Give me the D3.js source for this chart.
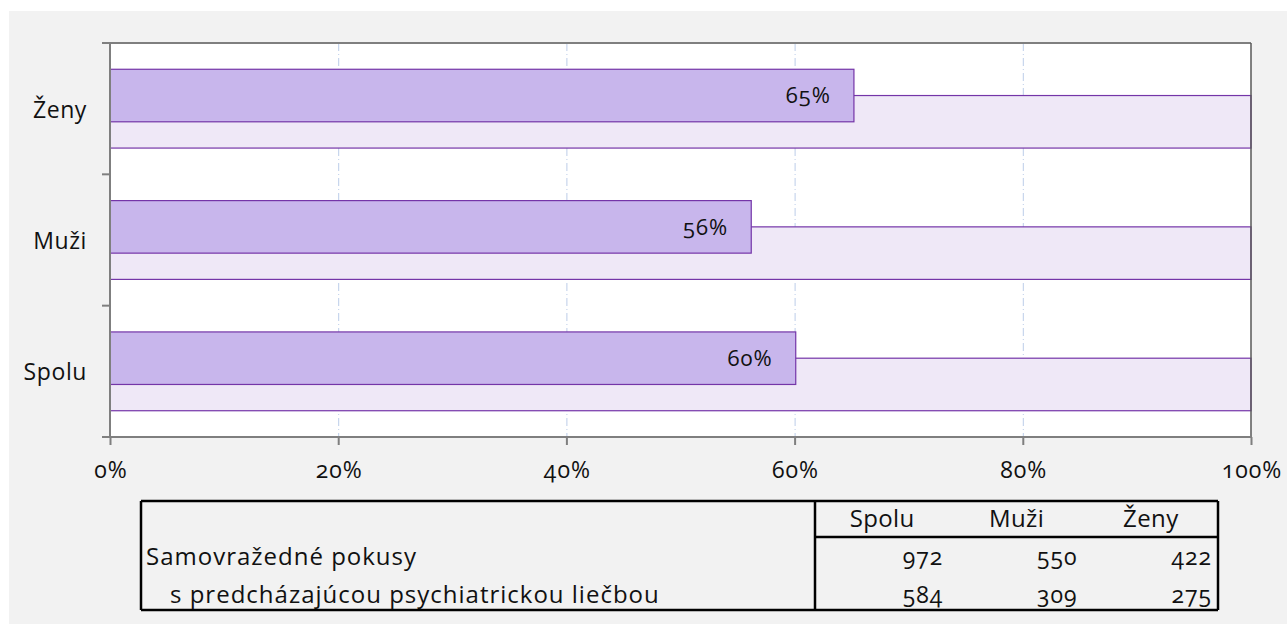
<!DOCTYPE html>
<html>
<head>
<meta charset="utf-8">
<script src="https://cdn.jsdelivr.net/npm/d3@7"></script>
<style>
  html, body { margin: 0; padding: 0; background: #ffffff; }
  svg { display: block; }
  text { font-family: "Open Sans", "Noto Sans", sans-serif; fill: #111111; font-variant-numeric: oldstyle-nums; font-feature-settings: "onum" 1; }
</style>
</head>
<body>
<svg id="chart" width="1287" height="624"></svg>
<script>
// ---- data ----
const categories = ["Ženy", "Muži", "Spolu"];
const shareValues = [65.2, 56.2, 60.1];          // % with previous psychiatric treatment
const shareLabels = ["65%", "56%", "60%"];
const totalValues = [100, 100, 100];              // background 100% bars
const xTicks = [0, 20, 40, 60, 80, 100];
const tableColumns = ["Spolu", "Muži", "Ženy"];
const tableRowLabels = ["Samovražedné pokusy", "s predcházajúcou psychiatrickou liečbou"];
const attemptsRow = [972, 550, 422];
const treatedRow = [584, 309, 275];

// ---- layout ----
const W = 1287, H = 624;
const plot = { left: 110, right: 1251, top: 43, bottom: 437 };
const svg = d3.select("#chart");

svg.append("rect").attr("x", 9).attr("y", 11).attr("width", W - 9).attr("height", H - 11).attr("fill", "#f2f2f2");
svg.append("rect").attr("x", plot.left).attr("y", plot.top)
  .attr("width", plot.right - plot.left).attr("height", plot.bottom - plot.top).attr("fill", "#ffffff");

const x = d3.scaleLinear().domain([0, 100]).range([plot.left, plot.right]);
const y = d3.scaleBand().domain(categories).range([plot.top, plot.bottom]).padding(0);
const bw = y.bandwidth();

// gridlines
svg.append("g").selectAll("line").data(xTicks.filter(t => t > 0 && t < 100)).join("line")
  .attr("x1", d => x(d) + 0.5).attr("x2", d => x(d) + 0.5)
  .attr("y1", plot.top).attr("y2", plot.bottom)
  .attr("stroke", "#bccde9").attr("stroke-width", 1).attr("stroke-dasharray", "8,3,1,3");

const rows = categories.map((c, i) => ({ c, v: shareValues[i], t: totalValues[i], lab: shareLabels[i] }));

// background (100%) bars
svg.append("g").selectAll("rect").data(rows).join("rect")
  .attr("x", x(0)).attr("y", d => y(d.c) + 0.4 * bw)
  .attr("width", d => x(d.t) - x(0)).attr("height", 0.4 * bw)
  .attr("fill", "#efe8f7").attr("stroke", "#7435a8").attr("stroke-width", 1.2);

// share bars
svg.append("g").selectAll("rect").data(rows).join("rect")
  .attr("x", x(0)).attr("y", d => y(d.c) + 0.2 * bw)
  .attr("width", d => x(d.v) - x(0)).attr("height", 0.4 * bw)
  .attr("fill", "#c8b6ec").attr("stroke", "#7435a8").attr("stroke-width", 1.2);

// bar labels
svg.append("g").selectAll("text").data(rows).join("text")
  .attr("x", d => x(d.v) - 23).attr("y", d => y(d.c) + 0.4 * bw)
  .attr("dy", "0.35em").attr("text-anchor", "end")
  .style("font-size", "22px").style("letter-spacing", "1px").text(d => d.lab);

// frame: top and right border
svg.append("line").attr("x1", plot.left - 8).attr("x2", plot.right).attr("y1", plot.top).attr("y2", plot.top)
  .attr("stroke", "#7f7f7f").attr("stroke-width", 2);
svg.append("line").attr("x1", plot.right).attr("x2", plot.right).attr("y1", plot.top).attr("y2", plot.bottom)
  .attr("stroke", "#595959").attr("stroke-width", 1.5);

// y axis
const yAxisG = svg.append("g").attr("transform", `translate(${plot.left},0)`);
yAxisG.append("line").attr("x1", 0).attr("x2", 0).attr("y1", plot.top).attr("y2", plot.bottom)
  .attr("stroke", "#7f7f7f").attr("stroke-width", 2);
yAxisG.selectAll("line.tk").data(categories.map(c => y(c)).concat([plot.bottom])).join("line")
  .attr("class", "tk").attr("x1", -8).attr("x2", 0).attr("y1", d => d).attr("y2", d => d)
  .attr("stroke", "#7f7f7f").attr("stroke-width", 2);
yAxisG.selectAll("text").data(categories).join("text")
  .attr("x", -23).attr("y", d => y(d) + bw / 2 + 1).attr("dy", "0.35em")
  .attr("text-anchor", "end").style("font-size", "23px").style("letter-spacing", "0.6px").text(d => d);

// x axis
const xAxis = d3.axisBottom(x).tickValues(xTicks).tickFormat(d => d + "%").tickSize(8).tickPadding(17);
const xAxisG = svg.append("g").attr("transform", `translate(0,${plot.bottom})`).call(xAxis);
xAxisG.select(".domain").attr("stroke", "#7f7f7f").attr("stroke-width", 2).attr("d", `M${plot.left - 8},0H${plot.right}`);
xAxisG.selectAll(".tick line").attr("stroke", "#7f7f7f").attr("stroke-width", 2);
xAxisG.selectAll(".tick text").attr("fill", "#111111").style("font-size", "23px").style("letter-spacing", "1px")
  .attr("dx", "0.5px")
  .style("font-family", '"Open Sans", "Noto Sans", sans-serif');

// ---- table ----
const tb = { left: 141, right: 1218, top: 501, headBottom: 537, bottom: 610, split: 815 };
const colX = d3.scaleBand().domain(tableColumns).range([tb.split, tb.right]);
const tg = svg.append("g");
const stroke = (x1, y1, x2, y2) => tg.append("line").attr("x1", x1).attr("y1", y1).attr("x2", x2).attr("y2", y2)
  .attr("stroke", "#000").attr("stroke-width", 2.5);
stroke(tb.left, tb.top, tb.right, tb.top);
stroke(tb.left, tb.bottom, tb.right, tb.bottom);
stroke(tb.left, tb.top, tb.left, tb.bottom);
stroke(tb.right, tb.top, tb.right, tb.bottom);
stroke(tb.split, tb.top, tb.split, tb.bottom);
stroke(tb.split, tb.headBottom, tb.right, tb.headBottom);

tg.selectAll("text.hd").data(tableColumns).join("text").attr("class", "hd")
  .attr("x", d => colX(d) + colX.bandwidth() / 2).attr("y", 519).attr("dy", "0.35em")
  .attr("text-anchor", "middle").style("font-size", "24px").style("letter-spacing", "0.4px").text(d => d);

const rowY = [557, 595];
tg.append("text").attr("x", 146).attr("y", rowY[0]).attr("dy", "0.35em")
  .style("font-size", "24px").style("letter-spacing", "1px").text(tableRowLabels[0]);
tg.append("text").attr("x", 170).attr("y", rowY[1]).attr("dy", "0.35em")
  .style("font-size", "24px").style("letter-spacing", "1px").text(tableRowLabels[1]);
[attemptsRow, treatedRow].forEach((row, ri) => {
  tg.selectAll(`text.v${ri}`).data(row).join("text").attr("class", `v${ri}`)
    .attr("x", (d, i) => colX(tableColumns[i]) + colX.bandwidth() - 6).attr("y", rowY[ri]).attr("dy", "0.35em")
    .attr("text-anchor", "end").style("font-size", "23px").style("letter-spacing", "1px").text(d => d);
});
</script>
</body>
</html>
